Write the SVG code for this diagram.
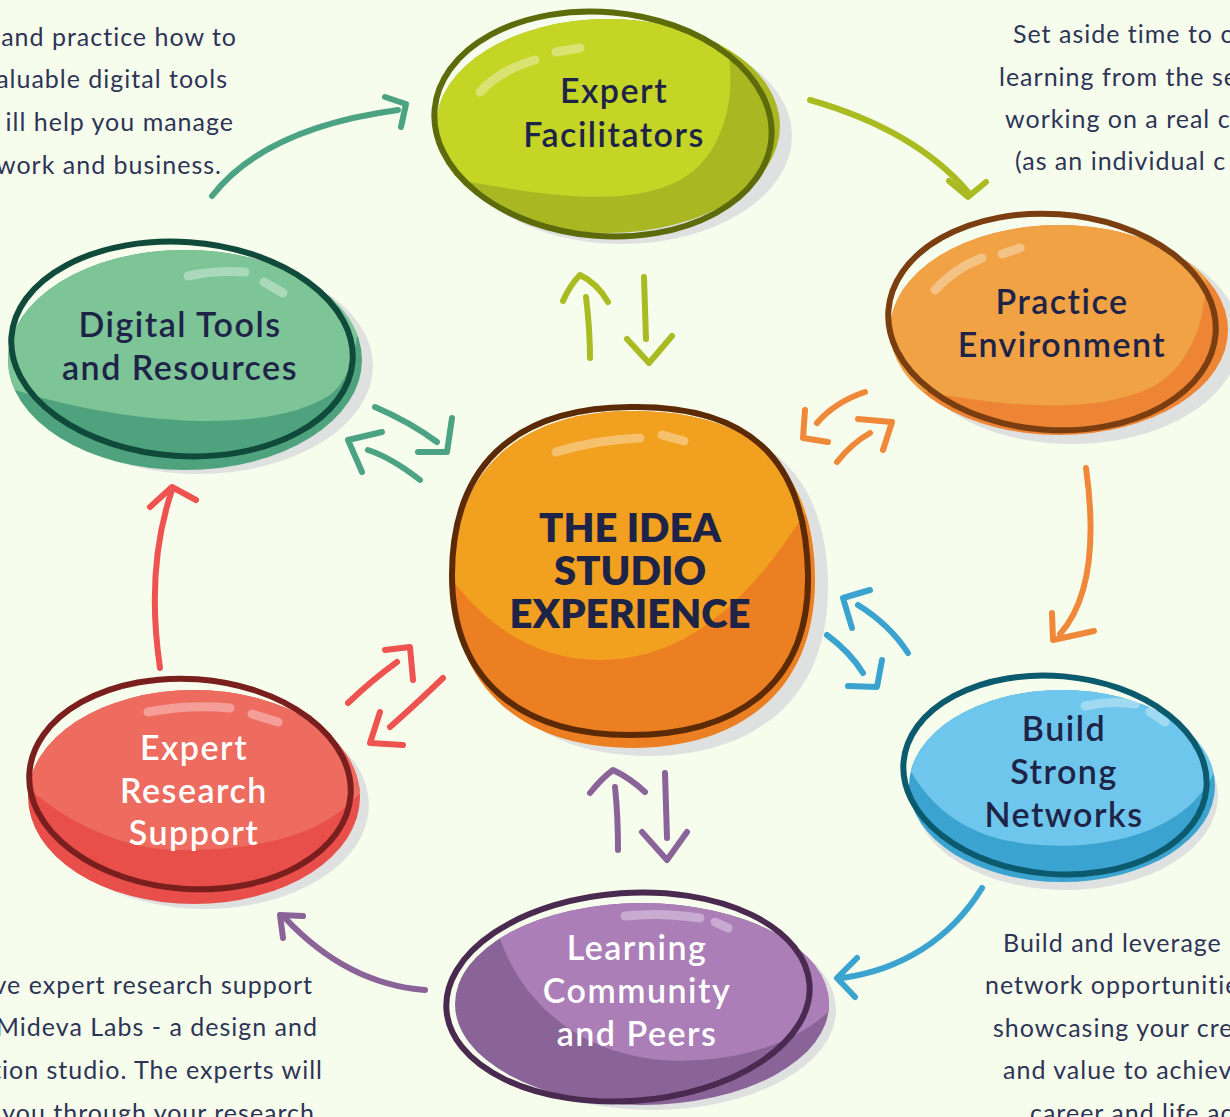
<svg xmlns="http://www.w3.org/2000/svg" width="1230" height="1117" viewBox="0 0 1230 1117">
<style>
.desc{font-family:Lato,"Liberation Sans",sans-serif;font-size:25px;letter-spacing:1px;fill:#2E3456}
.lbl{font-family:Lato,"Liberation Sans",sans-serif;font-size:34px;font-weight:600;letter-spacing:1.5px;fill:#1E2448;text-anchor:middle}
.lblw{fill:#FFFFFF}
.ctr{font-family:Lato,"Liberation Sans",sans-serif;font-size:40px;font-weight:800;fill:#1E2448;text-anchor:middle}
.sh{fill:#DFE1E1}
.hl{fill:none;stroke:#FFFFFF;stroke-opacity:0.35;stroke-width:9;stroke-linecap:round}
.ol{fill:none;stroke-width:6}
.ar{fill:none;stroke-width:6;stroke-linecap:round;stroke-linejoin:round}
.g{stroke:#4CA383}.y{stroke:#AABB22}.o{stroke:#F0883A}.b{stroke:#3BA3CF}.p{stroke:#8A6498}.r{stroke:#EE5350}
</style>
<defs>
<clipPath id="cF"><ellipse cx="608" cy="126" rx="172" ry="107"/></clipPath>
<clipPath id="cP"><ellipse cx="1059" cy="330" rx="169" ry="105"/></clipPath>
<clipPath id="cD"><ellipse cx="185" cy="360" rx="177" ry="110"/></clipPath>
<clipPath id="cN"><ellipse cx="1062" cy="786" rx="153" ry="96"/></clipPath>
<clipPath id="cL"><ellipse cx="642" cy="1004" rx="187" ry="101"/></clipPath>
<clipPath id="cR"><ellipse cx="194" cy="797" rx="166" ry="107"/></clipPath>
<clipPath id="cC"><path d="M633,411 C765,411 815,480 815,580 C815,695 735,748 633,748 C525,748 452,690 452,580 C452,475 515,411 633,411 Z"/></clipPath>
</defs>
<rect width="1230" height="1117" fill="#F6FDEC"/>

<g id="descriptions">
<text class="desc" text-anchor="end" x="237" y="46">and practice how to</text>
<text class="desc" text-anchor="end" x="228" y="88">aluable digital tools</text>
<text class="desc" text-anchor="end" x="234" y="131">ill help you manage</text>
<text class="desc" text-anchor="end" x="222" y="174">work and business.</text>
<text class="desc" x="1013" y="43">Set aside time to c</text>
<text class="desc" x="999" y="86">learning from the se</text>
<text class="desc" x="1005" y="128">working on a real c</text>
<text class="desc" x="1015" y="170">(as an individual c</text>
<text class="desc" text-anchor="end" x="313" y="994">ve expert research support</text>
<text class="desc" text-anchor="end" x="318" y="1036">Mideva Labs - a design and</text>
<text class="desc" text-anchor="end" x="323" y="1079">tion studio. The experts will</text>
<text class="desc" text-anchor="end" x="315" y="1122">you through your research</text>
<text class="desc" x="1003" y="952">Build and leverage</text>
<text class="desc" x="985" y="994">network opportunitie</text>
<text class="desc" x="993" y="1037">showcasing your cre</text>
<text class="desc" x="1003" y="1079">and value to achiev</text>
<text class="desc" x="1030" y="1122">career and life ac</text>
</g>

<g id="connectors">
<path class="ar g" d="M212,196 Q265,128 398,110"/>
<path class="ar g" d="M385,97 L406,104 L401,127"/>
<path class="ar y" d="M810,100 Q915,130 968,192"/>
<path class="ar y" d="M949,181 L968,197 L986,182"/>
<path class="ar o" d="M1086,468 C1096,540 1090,600 1060,634"/>
<path class="ar o" d="M1052,613 L1053,640 L1094,631"/>
<path class="ar b" d="M982,888 C950,940 900,970 842,978"/>
<path class="ar b" d="M857,958 L837,978 L855,997"/>
<path class="ar p" d="M425,990 C360,985 315,950 285,918"/>
<path class="ar p" d="M283,938 L280,915 L303,916"/>
<path class="ar r" d="M160,668 C150,600 155,540 172,490"/>
<path class="ar r" d="M150,507 L172,487 L196,500"/>

<path class="ar y" d="M590,358 Q590,330 586,297"/>
<path class="ar y" d="M563,301 Q570,285 580,275 Q597,283 608,302"/>
<path class="ar y" d="M644,277 L646,339"/>
<path class="ar y" d="M627,339 L649,363 L672,336"/>

<path class="ar g" d="M375,407 Q410,422 437,442"/>
<path class="ar g" d="M452,418 L447,452 L418,452"/>
<path class="ar g" d="M420,480 Q392,458 368,450"/>
<path class="ar g" d="M382,432 L348,440 L362,472"/>

<path class="ar o" d="M837,462 Q852,443 870,433"/>
<path class="ar o" d="M858,419 L892,422 L883,450"/>
<path class="ar o" d="M865,392 Q835,402 817,423"/>
<path class="ar o" d="M805,410 L803,438 L828,442"/>

<path class="ar b" d="M827,635 Q850,652 863,673"/>
<path class="ar b" d="M882,660 L877,687 L848,686"/>
<path class="ar b" d="M908,653 Q890,625 858,605"/>
<path class="ar b" d="M852,628 L843,598 L870,590"/>

<path class="ar r" d="M348,703 Q372,680 397,662"/>
<path class="ar r" d="M385,650 L410,647 L413,680"/>
<path class="ar r" d="M443,678 Q415,705 390,727"/>
<path class="ar r" d="M380,712 L370,743 L403,745"/>

<path class="ar p" d="M618,850 Q618,815 615,787"/>
<path class="ar p" d="M590,793 Q602,778 613,770 Q630,778 645,792"/>
<path class="ar p" d="M665,773 L667,838"/>
<path class="ar p" d="M642,832 L667,860 L687,832"/>
</g>

<g id="node-facilitators">
<ellipse class="sh" cx="622" cy="136" rx="170" ry="108"/>
<ellipse cx="608" cy="126" rx="172" ry="107" fill="#A9B822"/>
<path clip-path="url(#cF)" fill="#C5D526" d="M420,0 L710,0 C745,60 735,150 680,180 C620,212 520,192 420,172 Z"/>
<path class="hl" d="M480,92 Q500,70 535,60"/>
<path class="hl" d="M556,52 L580,48"/>
<ellipse class="ol" cx="603" cy="124" rx="169" ry="112" transform="rotate(5 603 124)" stroke="#5E6B0A"/>
<text class="lbl" x="614" y="103">Expert</text>
<text class="lbl" x="614" y="147">Facilitators</text>
</g>

<g id="node-practice">
<ellipse class="sh" cx="1072" cy="338" rx="168" ry="106"/>
<ellipse cx="1059" cy="330" rx="169" ry="105" fill="#EE8535"/>
<path clip-path="url(#cP)" fill="#F0A245" d="M880,210 L1195,210 C1218,280 1205,360 1150,388 C1080,420 970,402 880,382 Z"/>
<path class="hl" d="M935,290 Q955,268 982,258"/>
<path class="hl" d="M1002,254 L1020,248"/>
<ellipse class="ol" cx="1052" cy="322" rx="164" ry="108" transform="rotate(4 1052 322)" stroke="#7A3E10"/>
<text class="lbl" x="1062" y="314">Practice</text>
<text class="lbl" x="1062" y="357">Environment</text>
</g>

<g id="node-digital">
<ellipse class="sh" cx="198" cy="366" rx="175" ry="108"/>
<ellipse cx="185" cy="360" rx="177" ry="110" fill="#4EA27E"/>
<path clip-path="url(#cD)" fill="#7DC496" d="M0,240 L340,240 C368,300 362,370 330,395 C260,440 100,420 0,385 Z"/>
<path class="hl" d="M188,276 Q215,270 245,272"/>
<path class="hl" d="M264,282 L283,293"/>
<ellipse class="ol" cx="182" cy="349" rx="171" ry="107" transform="rotate(4 182 349)" stroke="#0F4A3A"/>
<text class="lbl" x="180" y="337">Digital Tools</text>
<text class="lbl" x="180" y="380">and Resources</text>
</g>

<g id="node-networks">
<ellipse class="sh" cx="1066" cy="796" rx="152" ry="94"/>
<ellipse cx="1062" cy="786" rx="153" ry="96" fill="#3BA3CF"/>
<path clip-path="url(#cN)" fill="#6EC6EC" d="M900,680 L1215,680 L1215,770 C1190,830 1110,850 1040,845 C960,840 922,800 900,750 Z"/>
<path class="hl" d="M1085,706 Q1110,700 1135,704"/>
<path class="hl" d="M1150,712 L1165,722"/>
<ellipse class="ol" cx="1055" cy="775" rx="152" ry="99" transform="rotate(5 1055 775)" stroke="#0B5A6E"/>
<text class="lbl" x="1064" y="741">Build</text>
<text class="lbl" x="1064" y="784">Strong</text>
<text class="lbl" x="1064" y="827">Networks</text>
</g>

<g id="node-learning">
<ellipse class="sh" cx="652" cy="1010" rx="184" ry="100"/>
<ellipse cx="642" cy="1004" rx="187" ry="101" fill="#8A6498"/>
<path clip-path="url(#cL)" fill="#AC7EB8" d="M490,895 C500,980 560,1050 660,1060 C740,1065 800,1040 830,1010 L830,895 Z"/>
<path class="hl" d="M625,916 Q660,912 700,918"/>
<path class="hl" d="M715,922 L728,928"/>
<ellipse class="ol" cx="628" cy="997" rx="182" ry="104" transform="rotate(-4 628 997)" stroke="#4A2A50"/>
<text class="lbl lblw" x="637" y="960">Learning</text>
<text class="lbl lblw" x="637" y="1003">Community</text>
<text class="lbl lblw" x="637" y="1046">and Peers</text>
</g>

<g id="node-research">
<ellipse class="sh" cx="205" cy="805" rx="164" ry="104"/>
<ellipse cx="194" cy="797" rx="166" ry="107" fill="#E84E4A"/>
<path clip-path="url(#cR)" fill="#EE6B60" d="M20,680 L370,680 L370,780 C330,840 250,850 180,850 C110,850 50,810 20,780 Z"/>
<path class="hl" d="M148,712 Q190,704 230,708"/>
<path class="hl" d="M252,714 L278,722"/>
<ellipse class="ol" cx="190" cy="784" rx="161" ry="105" transform="rotate(4 190 784)" stroke="#7A1E1E"/>
<text class="lbl lblw" x="194" y="760">Expert</text>
<text class="lbl lblw" x="194" y="803">Research</text>
<text class="lbl lblw" x="194" y="845">Support</text>
</g>

<g id="node-center">
<path class="sh" d="M648,418 C780,418 828,488 828,588 C828,703 750,756 648,756 C540,756 468,698 468,588 C468,483 530,418 648,418 Z"/>
<path fill="#EC7F22" d="M633,411 C765,411 815,480 815,580 C815,695 735,748 633,748 C525,748 452,690 452,580 C452,475 515,411 633,411 Z"/>
<path clip-path="url(#cC)" fill="#F2A020" d="M440,400 L830,400 L830,470 C780,560 710,660 600,660 C530,660 480,620 445,570 Z"/>
<path class="hl" d="M556,452 Q595,440 640,438"/>
<path class="hl" d="M662,435 L684,441"/>
<path class="ol" stroke="#5C2A05" d="M630,407 C762,405 806,472 808,575 C810,690 730,735 630,735 C520,735 452,680 452,575 C452,470 510,408 630,407 Z"/>
<text class="ctr" x="630" y="542">THE IDEA</text>
<text class="ctr" x="630" y="585">STUDIO</text>
<text class="ctr" x="630" y="628">EXPERIENCE</text>
</g>
</svg>
